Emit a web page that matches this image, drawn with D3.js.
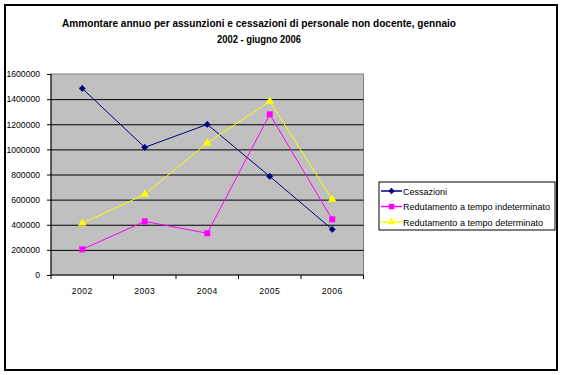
<!DOCTYPE html>
<html>
<head>
<meta charset="utf-8">
<script src="https://cdn.jsdelivr.net/npm/d3@7"></script>
<style>
body { margin: 0; background: #fff; }
svg { display: block; font-family: "Liberation Sans", Arial, sans-serif; }
</style>
</head>
<body>
<div id="chart"></div>
<script>
const years = ["2002", "2003", "2004", "2005", "2006"];
const cessazioni = [1485000, 1016000, 1199000, 785000, 363000];
const indeterminato = [204000, 427000, 332000, 1279000, 443000];
const determinato = [411000, 642000, 1051000, 1382000, 602000];
const yTicks = [0, 200000, 400000, 600000, 800000, 1000000, 1200000, 1400000, 1600000];
const titleLines = ["Ammontare annuo per assunzioni e cessazioni di personale non docente, gennaio", "2002 - giugno 2006"];

// legend text widths
const series = [
    {name: "Cessazioni", values: cessazioni, color: "#000080", symbol: d3.symbolSquare, rotate: 45, size: 20, textWidth: 44},
    {name: "Redutamento a tempo indeterminato", values: indeterminato, color: "#ff00ff", symbol: d3.symbolSquare, rotate: 0, size: 30, textWidth: 147},
    {name: "Redutamento a tempo determinato", values: determinato, color: "#ffff00", symbol: d3.symbolTriangle, rotate: 0, size: 26, textWidth: 140},
];

const outerWidth = 562;
const outerHeight = 375;
const plotBox = {left: 51, top: 74, right: 363.5, bottom: 275};

const svg = d3.select("#chart")
    .append("svg")
    .attr("width", outerWidth)
    .attr("height", outerHeight);

svg.append("rect")
    .attr("x", 5)
    .attr("y", 5)
    .attr("width", 552)
    .attr("height", 365)
    .attr("fill", "#fff")
    .attr("stroke", "#000")
    .attr("stroke-width", 2);

const title = svg.append("text")
    .attr("text-anchor", "middle")
    .attr("font-size", 11)
    .attr("font-weight", "bold")
    .attr("fill", "#000");
titleLines.forEach((line, index) => {
    title.append("tspan")
        .attr("x", 259)
        .attr("y", 27 + index * 16)
        .attr("textLength", index === 0 ? 394 : 84)
        .attr("lengthAdjust", "spacingAndGlyphs")
        .text(line);
});

const x = d3.scaleBand()
    .domain(years)
    .range([plotBox.left, plotBox.right]);
const y = d3.scaleLinear()
    .domain([0, 1600000])
    .range([plotBox.bottom, plotBox.top]);

svg.append("rect")
    .attr("x", plotBox.left)
    .attr("y", plotBox.top)
    .attr("width", plotBox.right - plotBox.left)
    .attr("height", plotBox.bottom - plotBox.top)
    .attr("fill", "#c0c0c0")
    .attr("stroke", "#808080")
    .attr("stroke-width", 1);

svg.append("g")
    .attr("transform", `translate(${plotBox.left}, 0)`)
    .call(d3.axisLeft(y).tickValues(yTicks.slice(1, -1)).tickSize(-(plotBox.right - plotBox.left)).tickFormat(""))
    .call((g) => g.select(".domain").remove())
    .call((g) => g.selectAll("line").attr("stroke", "#000"));

svg.append("g")
    .attr("transform", `translate(${plotBox.left}, 0)`)
    .call(d3.axisLeft(y).tickValues(yTicks).tickSize(4).tickPadding(7).tickFormat(d3.format("d")))
    .call((g) => g.select(".domain").attr("stroke", "#000").attr("d", `M0,${plotBox.top}V${plotBox.bottom}`))
    .call((g) => g.selectAll("line").attr("stroke", "#000"))
    .call((g) => g.selectAll("text").attr("font-size", 8.6).attr("font-family", "Liberation Sans, Arial, sans-serif").attr("fill", "#000"));

const bandEdges = years.map((yr) => x(yr)).concat([plotBox.right]);
const xAxis = svg.append("g")
    .attr("transform", `translate(0, ${plotBox.bottom})`);
xAxis.append("line")
    .attr("x1", plotBox.left)
    .attr("x2", plotBox.right)
    .attr("stroke", "#000");
xAxis.selectAll(".edge")
    .data(bandEdges)
    .enter()
    .append("line")
    .attr("x1", (d) => d)
    .attr("x2", (d) => d)
    .attr("y1", 0)
    .attr("y2", 4)
    .attr("stroke", "#000");
xAxis.selectAll(".yr")
    .data(years)
    .enter()
    .append("text")
    .attr("x", (d) => x(d) + x.bandwidth() / 2)
    .attr("y", 19)
    .attr("text-anchor", "middle")
    .attr("font-size", 8.6)
    .attr("letter-spacing", 0.5)
    .attr("fill", "#000")
    .text((d) => d);

const line = d3.line()
    .x((d, i) => x(years[i]) + x.bandwidth() / 2)
    .y((d) => y(d));

series.forEach((s) => {
    svg.append("path")
        .datum(s.values)
        .attr("fill", "none")
        .attr("stroke", s.color)
        .attr("stroke-width", 1)
        .attr("d", line);
    svg.selectAll(null)
        .data(s.values)
        .enter()
        .append("path")
        .attr("transform", (d, i) => `translate(${x(years[i]) + x.bandwidth() / 2}, ${y(d)}) rotate(${s.rotate})`)
        .attr("d", d3.symbol().type(s.symbol).size(s.size))
        .attr("fill", s.color)
        .attr("stroke", s.color)
        .attr("stroke-width", 0.5);
});

const legend = svg.append("g")
    .attr("transform", "translate(379, 182)");
legend.append("rect")
    .attr("width", 176)
    .attr("height", 48)
    .attr("fill", "#fff")
    .attr("stroke", "#000")
    .attr("stroke-width", 1);
series.forEach((s, index) => {
    const rowY = 9 + index * 15.5;
    legend.append("line")
        .attr("x1", 2)
        .attr("x2", 23)
        .attr("y1", rowY)
        .attr("y2", rowY)
        .attr("stroke", s.color)
        .attr("stroke-width", 1.5);
    legend.append("path")
        .attr("transform", `translate(12.5, ${rowY}) rotate(${s.rotate})`)
        .attr("d", d3.symbol().type(s.symbol).size(s.size))
        .attr("fill", s.color);
    legend.append("text")
        .attr("x", 24)
        .attr("y", rowY + 3.5)
        .attr("font-size", 9.5)
        .attr("textLength", s.textWidth)
        .attr("lengthAdjust", "spacingAndGlyphs")
        .attr("fill", "#000")
        .text(s.name);
});
</script>
</body>
</html>
